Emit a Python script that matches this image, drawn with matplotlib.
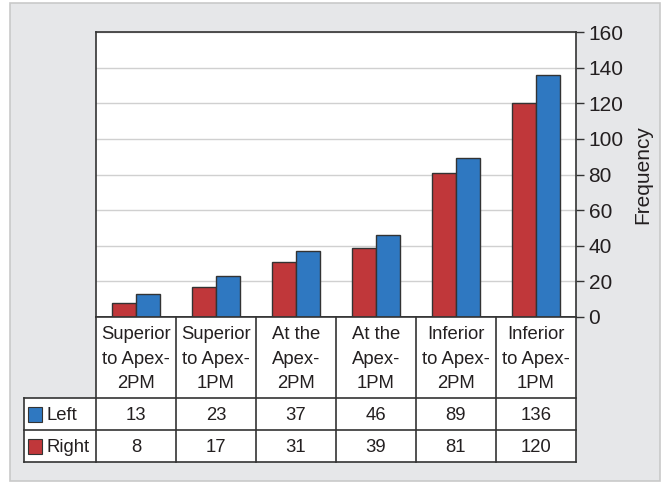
import matplotlib.pyplot as plt
import numpy as np
from matplotlib.patches import Rectangle

plt.rcParams['font.family'] = ['Liberation Sans', 'DejaVu Sans']

# data
categories = ['Superior\nto Apex-\n2PM', 'Superior\nto Apex-\n1PM', 'At the\nApex-\n2PM',
              'At the\nApex-\n1PM', 'Inferior\nto Apex-\n2PM', 'Inferior\nto Apex-\n1PM']
left = [13, 23, 37, 46, 89, 136]
right = [8, 17, 31, 39, 81, 120]
yticks = [0, 20, 40, 60, 80, 100, 120, 140, 160]

red = '#c0373a'
blue = '#2f78c1'
edge = '#333333'
txt = '#231f20'

W, H = 668, 484
fig = plt.figure(figsize=(W / 100, H / 100), dpi=100)
fig.patch.set_facecolor('white')

def fx(px):
    return px / W

def fy(py):
    return 1 - py / H

# gray panel
fig.patches.append(Rectangle((fx(10), fy(481)), fx(650), 478 / H, transform=fig.transFigure,
                             facecolor='#e6e7e9', edgecolor='#c9c9c9', lw=1.2, zorder=-10))

# bar chart
ax = fig.add_axes([fx(96), fy(317), fx(480), 285 / H])
ax.set_facecolor('white')
x = np.arange(len(categories))
bw = 0.3
ax.bar(x - bw / 2, right, bw, color=red, edgecolor=edge, lw=1, zorder=3)
ax.bar(x + bw / 2, left, bw, color=blue, edgecolor=edge, lw=1, zorder=3)
ax.set_xlim(-0.5, len(categories) - 0.5)
ax.set_ylim(0, 160)
ax.set_xticks([])
ax.yaxis.tick_right()
ax.yaxis.set_label_position('right')
ax.set_yticks(yticks)
ax.tick_params(axis='y', direction='out', length=6, width=1, color='#333333',
               labelsize=15, labelcolor=txt, pad=3)
ax.set_ylabel('Frequency', fontsize=15, color=txt, labelpad=7)
ax.grid(axis='y', color='#d0d0d0', lw=1, zorder=0)
for s in ax.spines.values():
    s.set_color('#333333')
    s.set_linewidth(1.2)

# data table below the chart
tx = fig.add_axes([0, 0, 1, 1], facecolor='none')
tx.set_xlim(0, W)
tx.set_ylim(H, 0)
tx.axis('off')
col_w = 480 / len(categories)
x0, lab_x = 96, 24
y_head, y_r1, y_r2, y_end = 317, 398, 430, 462
lc = '#333333'
# white cells
tx.add_patch(Rectangle((x0, y_head), 480, y_end - y_head, facecolor='white', edgecolor='none', zorder=0))
tx.add_patch(Rectangle((lab_x, y_r1), x0 - lab_x, y_end - y_r1, facecolor='white', edgecolor='none', zorder=0))
# horizontal lines
tx.plot([x0, 576], [y_head, y_head], color=lc, lw=1.2)
for yy in [y_r1, y_r2, y_end]:
    tx.plot([lab_x, 576], [yy, yy], color=lc, lw=1.2)
# vertical lines
tx.plot([lab_x, lab_x], [y_r1, y_end], color=lc, lw=1.2)
for i in range(len(categories) + 1):
    xx = x0 + i * col_w
    tx.plot([xx, xx], [y_head, y_end], color=lc, lw=1.2)

fs = 13.3
for i, cat in enumerate(categories):
    cx = x0 + (i + 0.5) * col_w
    tx.text(cx, (y_head + y_r1) / 2 + 1.5, cat, ha='center', va='center', fontsize=fs,
            color=txt, linespacing=1.55)
    tx.text(cx, (y_r1 + y_r2) / 2 + 1, str(left[i]), ha='center', va='center', fontsize=fs, color=txt)
    tx.text(cx, (y_r2 + y_end) / 2 + 1, str(right[i]), ha='center', va='center', fontsize=fs, color=txt)

for (ya, yb), name, col in [((y_r1, y_r2), 'Left', blue), ((y_r2, y_end), 'Right', red)]:
    tx.add_patch(Rectangle((28, ya + 8.5), 14, 15, facecolor=col, edgecolor=edge, lw=0.8))
    tx.text(47, (ya + yb) / 2 + 1, name, ha='left', va='center', fontsize=fs, color=txt)

fig.savefig('out.png', dpi=100)
